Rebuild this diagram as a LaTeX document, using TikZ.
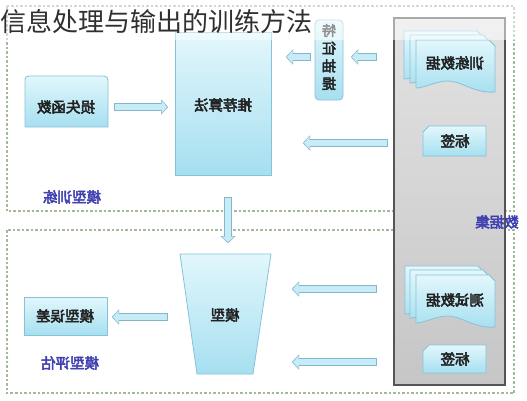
\documentclass[tikz,border=0pt]{standalone}
\usepackage{fontspec}
\setmainfont{Noto Sans CJK SC}[AutoFakeBold=3.5]
\usetikzlibrary{arrows.meta,calc}
\definecolor{bxtop}{HTML}{E2F7FC}
\definecolor{bxbot}{HTML}{A6DFF0}
\definecolor{bxline}{HTML}{88C2D8}
\definecolor{arrf}{HTML}{C5ECF7}
\definecolor{arrb}{HTML}{86B6CA}
\definecolor{dashc}{HTML}{A4B89C}
\definecolor{labc}{HTML}{4040B0}
\definecolor{txtc}{HTML}{222222}
\definecolor{titlec}{HTML}{303030}
\definecolor{pantop}{HTML}{E2E2E2}
\definecolor{panbot}{HTML}{C6C6C6}
\definecolor{panline}{HTML}{555555}
\tikzset{
  bx/.style={draw=bxline, line width=0.8pt, top color=bxtop, bottom color=bxbot},
  mir/.style={xscale=-1},
  boxtxt/.style={mir, text=txtc, inner sep=1pt, font=\fontsize{14.5}{17}\selectfont\bfseries},
  grouplab/.style={mir, text=labc, inner sep=1pt, font=\fontsize{14.5}{17}\selectfont\bfseries},
  dashbox/.style={draw=dashc, line width=1.2pt, dash pattern=on 2.5pt off 2pt},
  blk/.style={draw=arrf, line width=6pt, -{Triangle[length=5.5pt,width=12.6pt]},
    preaction={draw=arrb, line width=7.6pt, -{Triangle[length=7.2pt,width=15pt]},
      shorten >=-1.2pt, shorten <=-0.8pt}},
  docu/.pic={\path[bx] (0,0) -- (73,0) -- (79,6) -- (79,52)
      .. controls (58,54) and (45,40) .. (30,41)
      .. controls (18,42) and (8,48) .. (0,48) -- cycle;},
}
\begin{document}
\begin{tikzpicture}[x=1pt,y=-1pt]
\useasboundingbox (0,0) rectangle (527,400);
\fill[white] (0,0) rectangle (527,400);
% group frames
\draw[dashbox] (7,6) rectangle (514,211);
\draw[dashbox] (7,230) rectangle (514,393);
% data set panel
\path[draw=panline, line width=1.2pt, top color=pantop, bottom color=panbot] (394,18) rectangle (505,385);
% documents
\pic at (404,31) {docu};
\pic at (410,35) {docu};
\pic at (416,40) {docu};
\pic at (405,266) {docu};
\pic at (410,270) {docu};
\pic at (416,275) {docu};
% label boxes (cut corner)
\path[bx] (429,126) -- (486,126) -- (486,156) -- (423,156) -- (423,132) -- cycle;
\path[bx] (429,345) -- (486,345) -- (486,373) -- (423,373) -- (423,351) -- cycle;
% loss function box
\path[bx] (25,127) -- (25,84) .. controls (25,76) .. (33,76) -- (99,76)
   .. controls (108,76) .. (108,85) -- (108,127) -- cycle;
% algorithm box
\path[bx] (175,32) rectangle (271,175);
% feature box
\path[bx, rounded corners=4pt] (315,20) rectangle (343,100);
% model trapezium
\path[bx] (180,254) -- (271,254) -- (253,374) -- (197,374) -- cycle;
% model error box
\path[bx] (24,297) rectangle (107,335);
% texts
\node[boxtxt] (sunshi) at (66,107) {损失函数};
\node[boxtxt] (tuijian) at (223,105) {推荐算法};
\node[boxtxt, align=center, font=\fontsize{14}{17.7}\selectfont\bfseries] (tezheng) at (329,57) {特\\征\\抽\\提};
\node[boxtxt] (xunlian) at (455,63) {训练数据};
\node[boxtxt] (lab1) at (455,141) {标签};
\node[boxtxt] (model) at (225,315) {模型};
\node[boxtxt] (wucha) at (65,316) {模型误差};
\node[boxtxt] (ceshi) at (455,300) {测试数据};
\node[boxtxt] (lab2) at (455,359) {标签};
\node[grouplab] (mxl) at (72,197) {模型训练};
\node[grouplab] (mpg) at (70,363) {模型评估};
\node[grouplab] (sjj) at (497,222) {数据集};
% arrows
\draw[blk] ($(sunshi)+(49,0)$) -- ($(tuijian |- sunshi)+(-56,0)$);
\draw[blk] ($(tezheng)+(-19,0)$) -- ($(tuijian |- tezheng)+(64,0)$);
\draw[blk] ($(xunlian)+(-79,-6)$) -- ($(tezheng |- xunlian)+(23,-6)$);
\draw[blk] ($(lab1)+(-68,2)$) -- ($(tuijian |- lab1)+(81,2)$);
\draw[blk] ($(tuijian)+(5,93)$) -- ($(model)+(3,-73)$);
\draw[blk] ($(ceshi)+(-79,-11)$) -- ($(model |- ceshi)+(68,-11)$);
\draw[blk] ($(lab2)+(-79,3)$) -- ($(model |- lab2)+(68,3)$);
\draw[blk] ($(model)+(-58,2)$) -- ($(wucha |- model)+(48,2)$);
% title band
\fill[white, opacity=0.5] (0,0) rectangle (527,40);
\node[anchor=west, inner sep=0pt, text=titlec, font=\fontsize{26}{26}\selectfont] (title) at (0,22) {信息处理与输出的训练方法};
\end{tikzpicture}
\end{document}
